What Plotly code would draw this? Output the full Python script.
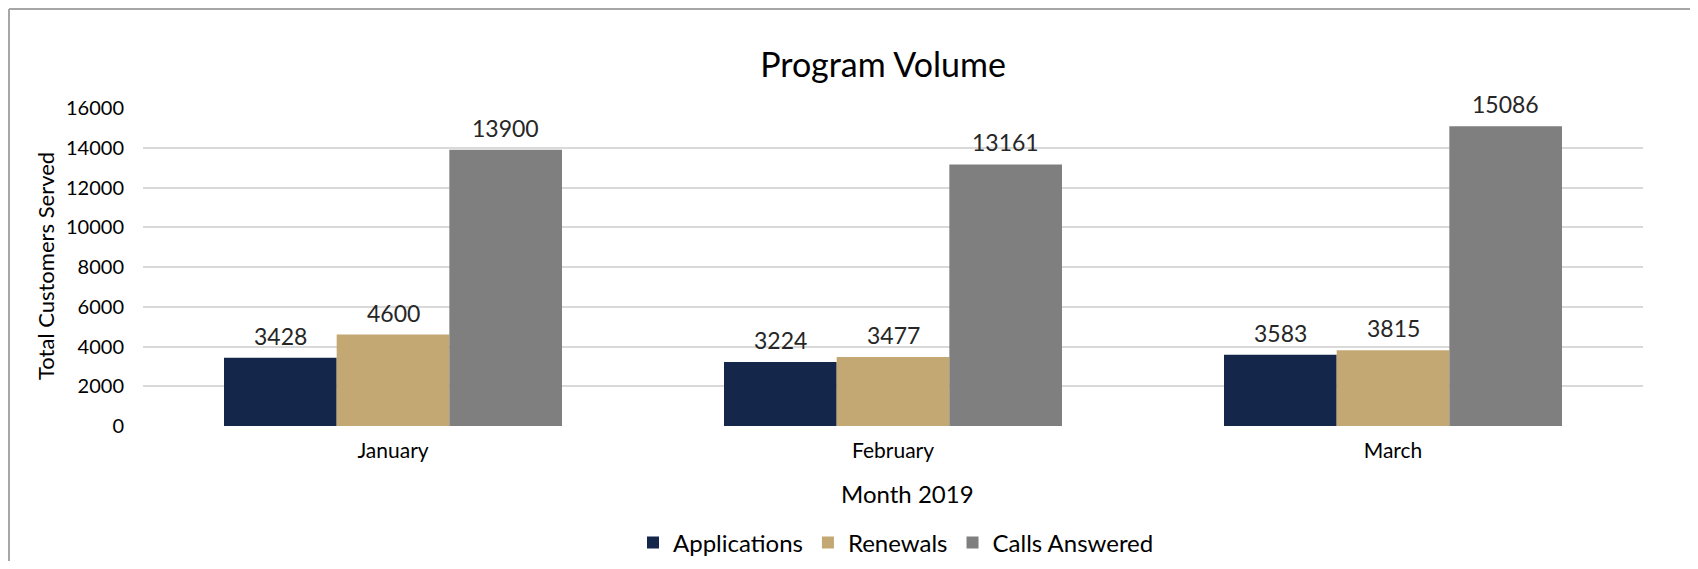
import plotly.graph_objects as go

months = ["January", "February", "March"]
applications = [3428, 3224, 3583]
renewals = [4600, 3477, 3815]
calls_answered = [13900, 13161, 15086]
y_ticks = [0, 2000, 4000, 6000, 8000, 10000, 12000, 14000, 16000]

FONT = "Lato, 'Open Sans', sans-serif"
TXT = "#262626"

# the page body adds an 8px margin; reference pixel positions are shifted by it
OFF = 8
W, H = 1698 - 2 * OFF, 569 - 2 * OFF   # fit inside the window (no scrollbars)
PL, PR, PT, PB = 143, 1643, 108, 426  # plot area in reference pixels
L, T = PL - OFF, PT - OFF
R = W - (PR - OFF)
B = H - (PB - OFF)
pw, ph = PR - PL, PB - PT
BARGAP = 0.324

def px_x(x):
    return (x - PL) / pw

def px_y(y):
    return (PB - y) / ph

fig = go.Figure()
series = [("Applications", applications, "#14264a"),
          ("Renewals", renewals, "#c4a874"),
          ("Calls Answered", calls_answered, "#7f7f7f")]
for name, vals, col in series:
    fig.add_trace(go.Bar(
        name=name, x=months, y=vals, marker=dict(color=col, line=dict(width=0)),
    ))

# data labels placed above each bar (offset by bar slot width)
slot = pw / len(months) * (1 - BARGAP) / len(series)
annotations = []
for i, (name, vals, col) in enumerate(series):
    for m, v in zip(months, vals):
        annotations.append(dict(
            x=m, y=v, xref="x", yref="y", text=str(v), showarrow=False,
            xshift=(i - 1) * slot, yanchor="bottom", yshift=6,
            font=dict(family=FONT, size=23, color=TXT),
        ))

annotations.append(dict(text="Month 2019", xref="paper", yref="paper",
                        x=px_x(907), y=px_y(493), xanchor="center", yanchor="middle",
                        showarrow=False, font=dict(family=FONT, size=24, color="#000000")))
annotations.append(dict(text="Total Customers Served", xref="paper", yref="paper",
                        x=px_x(45), y=px_y(266), xanchor="center", yanchor="middle",
                        textangle=-90, showarrow=False,
                        font=dict(family=FONT, size=22, color="#000000")))

fig.update_layout(
    width=W, height=H,
    margin=dict(l=L, r=R, t=T, b=B, autoexpand=False),
    paper_bgcolor="white", plot_bgcolor="white",
    barmode="group", bargap=BARGAP, bargroupgap=0,
    title=dict(text="Program Volume", x=(883 - OFF) / W, xanchor="center",
               y=1 - (65 - OFF) / H, yanchor="middle",
               font=dict(family=FONT, size=34, color="#000000")),
    font=dict(family=FONT, color=TXT),
    xaxis=dict(tickfont=dict(family=FONT, size=21, color="#000000"),
               showline=False, showgrid=False, ticks="", ticklabelstandoff=10,
               automargin=False),
    yaxis=dict(range=[0, 16000], tickvals=y_ticks, ticktext=[str(v) for v in y_ticks],
               tickfont=dict(family=FONT, size=20, color="#000000"),
               showgrid=True, gridcolor="#d9d9d9", gridwidth=2, zeroline=False, showline=False,
               ticks="", ticklabelstandoff=18, automargin=False),
    legend=dict(orientation="h", x=px_x(896), xanchor="center", y=px_y(543), yanchor="middle",
                font=dict(family=FONT, size=24, color="#000000"), traceorder="normal",
                itemwidth=30),
    annotations=annotations,
    shapes=[
        # top edge of the frame
        dict(type="line", xref="paper", yref="paper",
             x0=(1 - L) / pw, x1=(W - L) / pw,
             y0=(H - B - 1) / ph, y1=(H - B - 1) / ph,
             line=dict(color="#a6a6a6", width=2), layer="below"),
        # left edge of the frame
        dict(type="line", xref="paper", yref="paper",
             x0=(1 - L) / pw, x1=(1 - L) / pw,
             y0=(H - B - H) / ph, y1=(H - B - 1) / ph,
             line=dict(color="#a6a6a6", width=2), layer="below"),
    ],
)

fig.write_html("out.html")
